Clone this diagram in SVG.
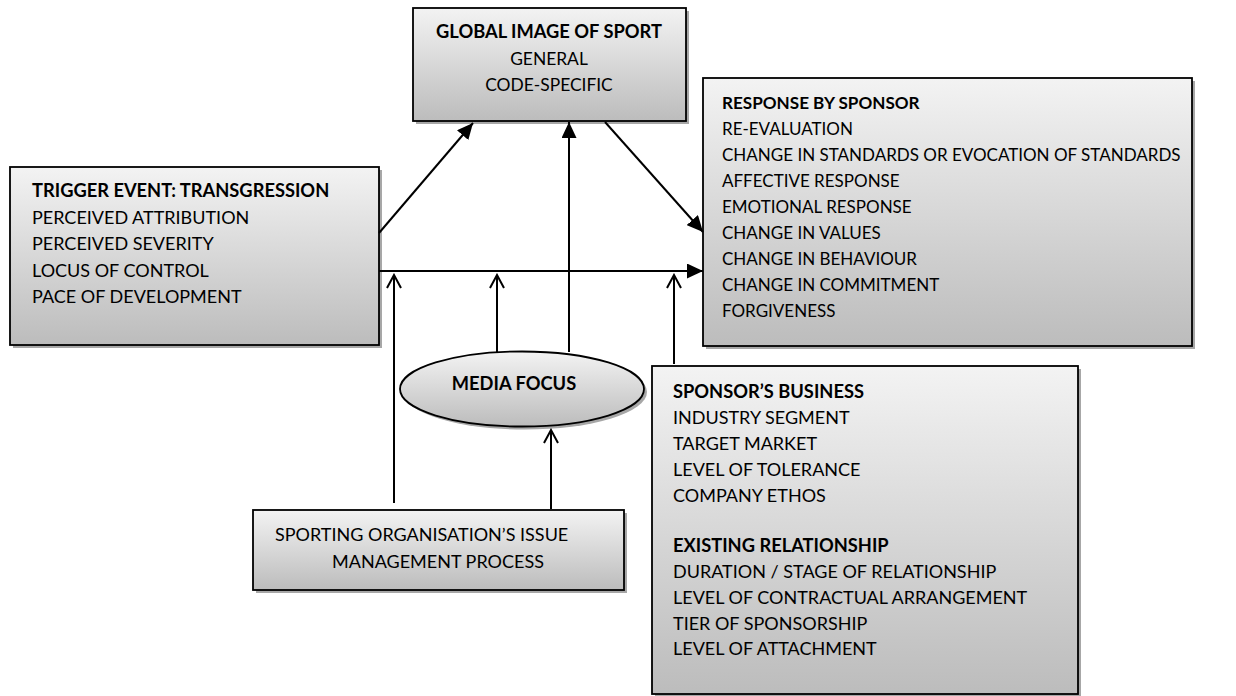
<svg xmlns="http://www.w3.org/2000/svg" width="1236" height="696" viewBox="0 0 1236 696">
<defs>
<linearGradient id="g" x1="0" y1="0" x2="0" y2="1">
<stop offset="0" stop-color="#f3f3f3"/>
<stop offset="1" stop-color="#bcbcbc"/>
</linearGradient>
<marker id="fa" markerUnits="userSpaceOnUse" markerWidth="17" markerHeight="15" refX="16" refY="7.5" orient="auto">
<path d="M0,0 L16,7.5 L0,15 z" fill="#000"/>
</marker>
<marker id="oa" markerUnits="userSpaceOnUse" markerWidth="16" markerHeight="16" refX="14" refY="8" orient="auto">
<path d="M1,1 L14,8 L1,15" fill="none" stroke="#000" stroke-width="2"/>
</marker>
</defs>
<style>
.box{fill:url(#g);stroke:#000;stroke-width:1.8}
.sh{fill:#8a8a8a;opacity:0.75}
text{font-family:Lato,"Liberation Sans",sans-serif;font-size:18px;fill:#000}
.b{font-weight:bold;font-size:18.3px}
.s{font-size:17px}
.sb{font-weight:bold;font-size:17.1px}
.m{font-size:17.4px}
.c{stroke:#000;stroke-width:2;fill:none}
</style>
<rect width="1236" height="696" fill="#fff"/>
<g id="global">
<rect class="sh" x="416" y="11" width="273" height="113"/>
<rect class="box" x="413" y="8" width="273" height="113"/>
<text x="549" y="38" text-anchor="middle" class="b">GLOBAL IMAGE OF SPORT</text>
<text x="549" y="65" text-anchor="middle" class="m">GENERAL</text>
<text x="549" y="91" text-anchor="middle" class="m">CODE-SPECIFIC</text>
</g>
<g id="trigger">
<rect class="sh" x="13" y="170" width="369" height="178"/>
<rect class="box" x="10" y="167" width="369" height="178"/>
<text x="32" y="197" class="b">TRIGGER EVENT: TRANSGRESSION</text>
<text x="32" y="224">PERCEIVED ATTRIBUTION</text>
<text x="32" y="250">PERCEIVED SEVERITY</text>
<text x="32" y="277">LOCUS OF CONTROL</text>
<text x="32" y="303">PACE OF DEVELOPMENT</text>
</g>
<g id="response">
<rect class="sh" x="706" y="81" width="489" height="268"/>
<rect class="box" x="703" y="78" width="489" height="268"/>
<text x="722" y="109" class="sb">RESPONSE BY SPONSOR</text>
<text x="722" y="135" class="s">RE-EVALUATION</text>
<text x="722" y="161" class="s">CHANGE IN STANDARDS OR EVOCATION OF STANDARDS</text>
<text x="722" y="187" class="s">AFFECTIVE RESPONSE</text>
<text x="722" y="213" class="s">EMOTIONAL RESPONSE</text>
<text x="722" y="239" class="s">CHANGE IN VALUES</text>
<text x="722" y="265" class="s">CHANGE IN BEHAVIOUR</text>
<text x="722" y="291" class="s">CHANGE IN COMMITMENT</text>
<text x="722" y="317" class="s">FORGIVENESS</text>
</g>
<g id="media">
<ellipse class="sh" cx="525" cy="392" rx="122" ry="37.5"/>
<ellipse class="box" cx="522" cy="389" rx="122" ry="37.5"/>
<text x="514" y="390" text-anchor="middle" class="b">MEDIA FOCUS</text>
</g>
<g id="business">
<rect class="sh" x="655" y="369" width="426" height="330"/>
<rect class="box" x="652" y="366" width="426" height="328"/>
<text x="673" y="398" class="b">SPONSOR’S BUSINESS</text>
<text x="673" y="424">INDUSTRY SEGMENT</text>
<text x="673" y="450">TARGET MARKET</text>
<text x="673" y="476">LEVEL OF TOLERANCE</text>
<text x="673" y="502">COMPANY ETHOS</text>
<text x="673" y="552" class="b">EXISTING RELATIONSHIP</text>
<text x="673" y="578">DURATION / STAGE OF RELATIONSHIP</text>
<text x="673" y="604">LEVEL OF CONTRACTUAL ARRANGEMENT</text>
<text x="673" y="630">TIER OF SPONSORSHIP</text>
<text x="673" y="655">LEVEL OF ATTACHMENT</text>
</g>
<g id="issue">
<rect class="sh" x="256" y="513" width="371" height="80"/>
<rect class="box" x="253" y="510" width="371" height="80"/>
<text x="275" y="541">SPORTING ORGANISATION’S ISSUE</text>
<text x="332" y="568">MANAGEMENT PROCESS</text>
</g>
<g id="connectors">
<line class="c" x1="379" y1="233" x2="473" y2="123" marker-end="url(#fa)"/>
<line class="c" x1="605" y1="122" x2="703" y2="232" marker-end="url(#fa)"/>
<line class="c" x1="379" y1="271" x2="703" y2="271" marker-end="url(#fa)"/>
<line class="c" x1="569" y1="352" x2="569" y2="122" marker-end="url(#fa)"/>
<line class="c" x1="394" y1="503" x2="394" y2="275" marker-end="url(#oa)"/>
<line class="c" x1="497" y1="352" x2="497" y2="275" marker-end="url(#oa)"/>
<line class="c" x1="674" y1="364" x2="674" y2="275" marker-end="url(#oa)"/>
<line class="c" x1="551" y1="509" x2="551" y2="430" marker-end="url(#oa)"/>
</g>
</svg>
